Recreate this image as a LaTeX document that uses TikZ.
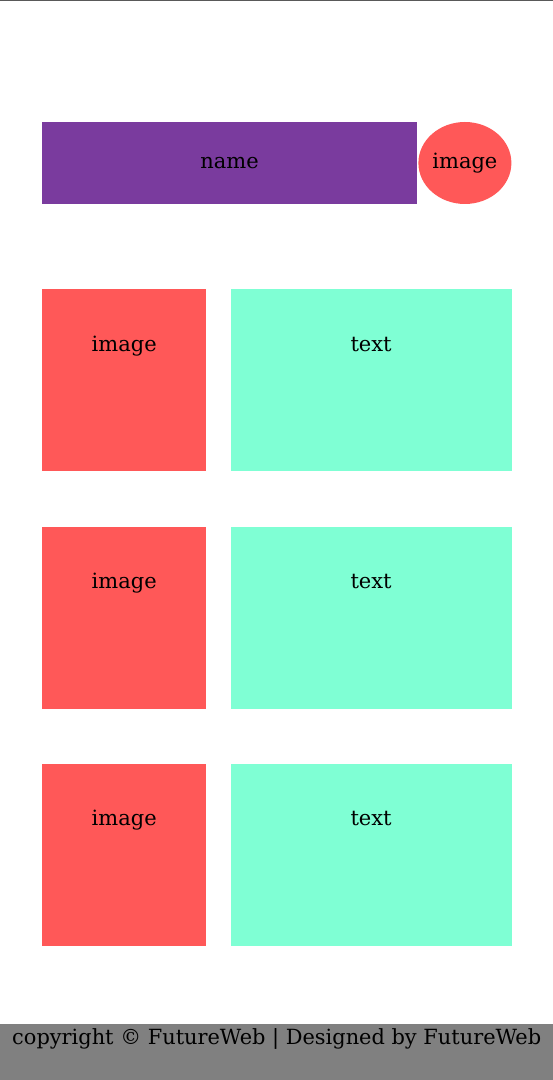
\documentclass[tikz,border=0pt]{standalone}
\usepackage{fontspec}
\setmainfont{DejaVu Serif}
\usetikzlibrary{positioning, shapes.geometric}

\definecolor{headpurple}{RGB}{122,59,158}
\definecolor{imgred}{RGB}{255,88,88}
\definecolor{textaqua}{RGB}{127,255,212}
\definecolor{footgray}{RGB}{128,128,128}

\tikzset{
  imgbox/.style={fill=imgred, inner sep=0, minimum width=164pt, text height=62pt, text depth=120pt},
  txtbox/.style={fill=textaqua, inner sep=0, minimum width=281pt, text height=62pt, text depth=120pt},
}

\begin{document}
\begin{tikzpicture}[x=1pt, y=1pt, font=\fontsize{21}{25}\selectfont, node distance=55pt]
        \useasboundingbox (0,0) rectangle (553,1080);
        \draw[line width=2pt, black!65] (0,1080) -- (553,1080);

        \node[fill=headpurple, inner sep=0, minimum width=375pt, minimum height=82pt] (name) at (229.5,917) {name};
        \node[ellipse, fill=imgred, inner sep=0, minimum width=93pt, minimum height=82pt, right=1pt of name] (avatar) {image};

        \node[imgbox, anchor=north west] (image 1) at (42,791) {image};
        \node[imgbox, below=of image 1] (image 2) {image};
        \node[imgbox, below=of image 2] (image 3) {image};

        \foreach \i in {1,2,3}
        \node[txtbox, right=24pt of image \i] (text \i) {text};

        \node[fill=footgray, inner sep=0, minimum width=553pt, text height=21pt, text depth=35pt, anchor=south west,
              font=\fontsize{20.9}{25}\selectfont] (footer) at (0,0) {copyright © FutureWeb | Designed by FutureWeb};

    \end{tikzpicture}
\end{document}
